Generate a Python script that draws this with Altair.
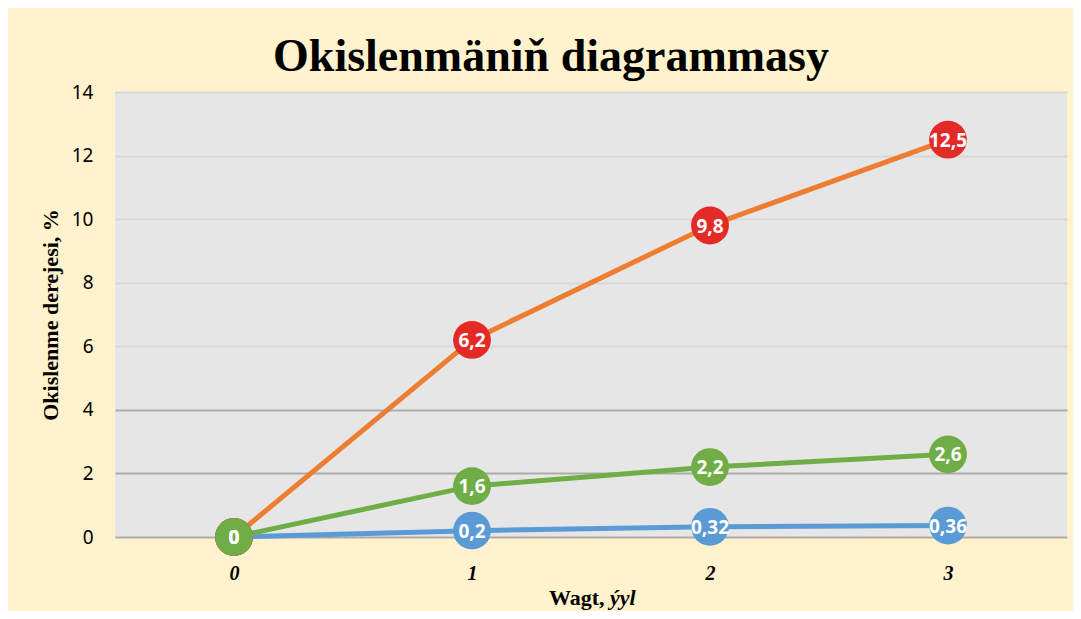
import altair as alt
import pandas as pd

# ---- data ----
years = ["0", "1", "2", "3"]
series_names = ["Seriýa 1", "Seriýa 2", "Seriýa 3"]   # drawn in this order
blue_vals = [0, 0.2, 0.32, 0.36]
orange_vals = [0, 6.2, 9.8, 12.5]
green_vals = [0, 1.6, 2.2, 2.6]
y_ticks = [0, 2, 4, 6, 8, 10, 12, 14]

rows = []
for name, vals in zip(series_names, [blue_vals, orange_vals, green_vals]):
    for yr, v in zip(years, vals):
        rows.append({"yil": yr, "seriya": name, "value": v})
df = pd.DataFrame(rows)

line_colors = ["#5B9BD5", "#ED7D31", "#70AD47"]
marker_colors = ["#5B9BD5", "#E32A26", "#70AD47"]

W, H = 952, 445

x_enc = alt.X(
    "yil:N",
    sort=years,
    scale=alt.Scale(type="point", padding=0.5),
    axis=alt.Axis(
        title=None, domain=False, ticks=False, grid=False,
        labelAngle=0, labelFont="Liberation Serif", labelFontWeight="bold",
        labelFontStyle="italic", labelFontSize=20, labelColor="#000000",
        labelPadding=26,
    ),
)
y_enc = alt.Y(
    "value:Q",
    scale=alt.Scale(domain=[0, 14], nice=False, zero=True),
    axis=alt.Axis(
        values=y_ticks, title="Okislenme derejesi, %", domain=False, ticks=False,
        grid=True, gridWidth=2,
        gridColor={"condition": {"test": "datum.value <= 4", "value": "#ABABAB"},
                   "value": "#D9D7D7"},
        labelFont="Noto Sans", labelFontSize=19, labelColor="#000000",
        labelPadding=22,
        titleFont="Liberation Serif", titleFontWeight="bold", titleFontSize=22,
        titleColor="#000000", titlePadding=9,
    ),
)

base = alt.Chart(df)

lines = base.mark_line(strokeWidth=5).encode(
    x=x_enc, y=y_enc,
    color=alt.Color("seriya:N", scale=alt.Scale(domain=series_names, range=line_colors), legend=None),
)

points = base.mark_point(filled=True, shape="circle", size=1430, opacity=1).encode(
    x=alt.X("yil:N", sort=years), y="value:Q",
    color=alt.Color("seriya:N", scale=alt.Scale(domain=series_names, range=marker_colors), legend=None),
)

labels = base.transform_calculate(
    lab="replace(toString(datum.value), '.', ',')"
).mark_text(
    font="Open Sans", fontWeight="bold", fontSize=19, color="white",
    align="center", baseline="middle", dy=1,
).encode(x=alt.X("yil:N", sort=years), y="value:Q", text="lab:N")

xt_df = pd.DataFrame({"t": ["Wagt,"]})
xt_df2 = pd.DataFrame({"t": ["ýyl"]})
xtitle1 = alt.Chart(xt_df).mark_text(
    font="Liberation Serif", fontWeight="bold", fontSize=22, color="black",
    align="left", baseline="alphabetic",
).encode(x=alt.value(434), y=alt.value(513), text="t:N")
xtitle2 = alt.Chart(xt_df2).mark_text(
    font="Liberation Serif", fontWeight="bold", fontStyle="italic", fontSize=22,
    color="black", align="left", baseline="alphabetic",
).encode(x=alt.value(495), y=alt.value(513), text="t:N")

chart = alt.layer(lines, points, labels, xtitle1, xtitle2).resolve_scale(
    color="independent"
).properties(
    width=W, height=H,
    padding={"left": 107, "top": 84, "right": 6, "bottom": 74},
    autosize=alt.AutoSizeParams(type="none"),
    title=alt.TitleParams(
        "Okislenmäniň diagrammasy", font="Liberation Serif", fontWeight="bold",
        fontSize=46, color="black", anchor="middle", dx=-40, offset=2,
    ),
).configure(background="#FFF2CC").configure_view(fill="#E7E6E6", strokeWidth=0)

chart.save("out.html", embed_options={"renderer": "svg", "actions": False})
